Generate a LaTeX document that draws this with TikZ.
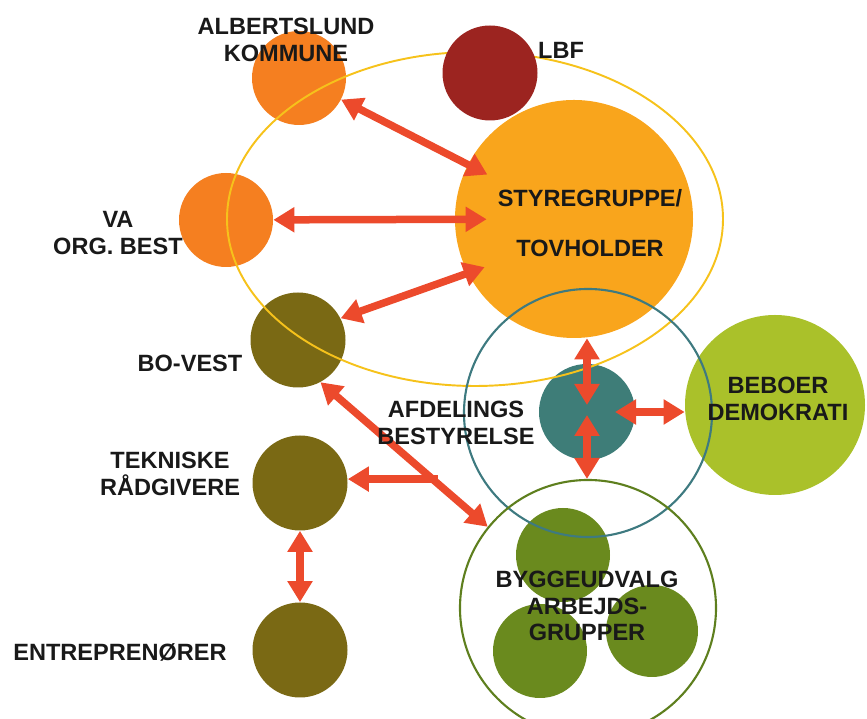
\documentclass[tikz,border=0pt]{standalone}
\usepackage{fontspec}
\setmainfont{Liberation Sans}
\usetikzlibrary{arrows.meta}
\definecolor{arrowred}{RGB}{236,74,44}
\definecolor{kommuneorange}{RGB}{245,127,32}
\definecolor{lbfred}{RGB}{156,36,32}
\definecolor{styrorange}{RGB}{249,165,28}
\definecolor{ringyellow}{RGB}{246,194,27}
\definecolor{olive}{RGB}{122,105,20}
\definecolor{tealfill}{RGB}{62,125,120}
\definecolor{tealring}{RGB}{62,122,128}
\definecolor{beboergreen}{RGB}{170,193,42}
\definecolor{greenring}{RGB}{94,127,30}
\definecolor{groupgreen}{RGB}{106,138,30}
\begin{document}
\begin{tikzpicture}[
  ball/.style={circle,inner sep=0pt,minimum size=#1},
  ring/.style={circle,draw,line width=1.2pt,inner sep=0pt,minimum size=#1},
  label/.style={font=\bfseries\fontsize{13.4}{15}\selectfont,text=black!90,align=center,inner sep=0pt},
  arrowline/.style={{Triangle[length=0.42cm,width=0.48cm]}-{Triangle[length=0.42cm,width=0.48cm]},line width=0.15cm,draw=arrowred},
  oneway/.style={-{Triangle[length=0.42cm,width=0.48cm]},line width=0.15cm,draw=arrowred}]
\useasboundingbox (0,0) rectangle (17.34,14.38);
% circles below the yellow ring
\node[ball=1.88cm,fill=kommuneorange] (alb) at (5.98,12.82) {};
\node[ball=1.88cm,fill=kommuneorange] (va) at (4.52,9.98) {};
\node[ball=1.9cm,fill=olive] (bovest) at (5.96,7.58) {};
\node[ball=1.92cm,fill=tealfill] (afd) at (11.74,6.14) {};
\node[ball=1.9cm,fill=olive] (tek) at (6.00,4.72) {};
\node[ball=1.9cm,fill=olive] (entr) at (6.00,1.38) {};
\node[ball=1.88cm,fill=groupgreen] (grp1) at (11.26,3.28) {};
\node[ball=1.88cm,fill=groupgreen] (grp2) at (10.80,1.36) {};
\node[ball=1.84cm,fill=groupgreen] (grp3) at (13.04,1.76) {};
% yellow ring
\draw[ringyellow,line width=1.1pt] (9.50,10.00) ellipse [x radius=4.96,y radius=3.34];
% circles above it
\node[ball=1.9cm,fill=lbfred] (lbf) at (9.80,12.92) {};
\node[ball=4.76cm,fill=styrorange] (styr) at (11.48,10.00) {};
\node[ball=3.6cm,fill=beboergreen] (beboer) at (15.50,6.28) {};
% rings
\node[ring=4.96cm,draw=tealring] (tring) at (11.76,6.12) {};
\node[ring=5.12cm,draw=greenring] (gring) at (11.76,2.22) {};
% arrows
\draw[arrowline,shorten >=-0.44cm] (alb) -- (styr);
\draw[arrowline,shorten >=-0.64cm] (va) -- (styr);
\draw[arrowline,shorten >=-0.36cm] (bovest.27) -- (styr.207);
\draw[arrowline] (afd |- styr.south) -- ([yshift=0.14cm]afd.center);
\draw[arrowline] ([yshift=-0.06cm]afd.center) -- (afd |- gring.north);
\draw[arrowline] ([xshift=0.56cm]afd.center) -- (afd -| beboer.west);
\draw[arrowline] (bovest.-62) -- coordinate[pos=0.67] (fork) (gring.141);
\draw[oneway] ([xshift=0.1cm]fork) -- (fork -| tek.east);
\draw[arrowline] (tek.south) -- (entr.north);
% labels
\node[label] (albtext) at (5.72,13.58) {ALBERTSLUND\\KOMMUNE};
\node[label] (lbftext) at (11.22,13.38) {LBF};
\node[label] (vatext) at (2.36,9.72) {VA\\ORG. BEST};
\node[label] (styrtext) at (11.80,9.92) {STYREGRUPPE/\\[0.48cm]TOVHOLDER};
\node[label] (botext) at (3.80,7.12) {BO-VEST};
\node[label] (afdtext) at (9.12,5.92) {AFDELINGS\\BESTYRELSE};
\node[label] (tektext) at (3.40,4.90) {TEKNISKE\\RÅDGIVERE};
\node[label] (entrtext) at (2.40,1.34) {ENTREPRENØRER};
\node[label] (bebtext) at (15.56,6.40) {BEBOER\\DEMOKRATI};
\node[label] (grptext) at (11.74,2.26) {BYGGEUDVALG\\ARBEJDS-\\GRUPPER};
\end{tikzpicture}
\end{document}
